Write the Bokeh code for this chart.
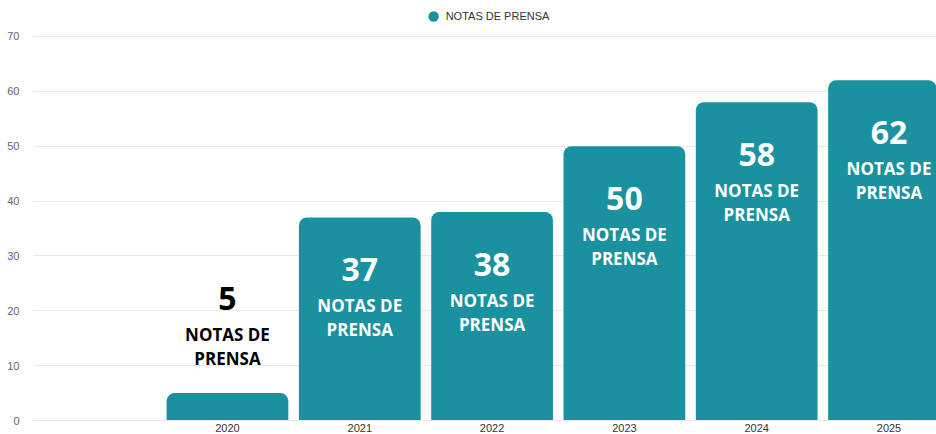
from bokeh.plotting import figure
from bokeh.models import ColumnDataSource, Range1d, FixedTicker, Legend, LegendItem
from bokeh.core.properties import value
from bokeh.embed import file_html
from bokeh.resources import INLINE

years = ["2020", "2021", "2022", "2023", "2024", "2025"]
notas = [5, 37, 38, 50, 58, 62]
series_name = "NOTAS DE PRENSA"
y_ticks = [0, 10, 20, 30, 40, 50, 60, 70]

TEAL = "#1A919E"
xs = list(range(1, len(years) + 1))

src = ColumnDataSource(dict(x=xs, top=notas, year=years,
                            num=[str(v) for v in notas]))

p = figure(width=936, height=434, output_backend="svg", toolbar_location=None,
           x_range=Range1d(-0.466, 6.359), y_range=Range1d(0, 76.55),
           min_border_left=33, min_border_right=0, min_border_top=0,
           min_border_bottom=13, title=None)
p.outline_line_color = None
p.background_fill_color = "white"

bars = p.vbar(x="x", top="top", width=0.92, source=src, fill_color=TEAL,
              line_color=None, border_radius=(8, 8, 0, 0))

# labels
inside = [v >= 10 for v in notas]
lab_src_in = ColumnDataSource(dict(
    x=[x for x, i in zip(xs, inside) if i],
    y=[v for v, i in zip(notas, inside) if i],
    num=[str(v) for v, i in zip(notas, inside) if i]))
lab_src_out = ColumnDataSource(dict(
    x=[x for x, i in zip(xs, inside) if not i],
    y=[v for v, i in zip(notas, inside) if not i],
    num=[str(v) for v, i in zip(notas, inside) if not i]))

font = value("Open Sans")
for s, col, base in ((lab_src_in, "white", 52), (lab_src_out, "black", -95)):
    p.text(x="x", y="y", text="num", source=s, text_color=col, text_font=font,
           text_font_style="bold", text_font_size="32px", text_align="center",
           text_baseline="middle", y_offset=base)
    p.text(x="x", y="y", text=value("NOTAS DE"), source=s, text_color=col,
           text_font=font, text_font_style="bold", text_font_size="17px",
           text_align="center", text_baseline="middle", y_offset=base + 36)
    p.text(x="x", y="y", text=value("PRENSA"), source=s, text_color=col,
           text_font=font, text_font_style="bold", text_font_size="17px",
           text_align="center", text_baseline="middle", y_offset=base + 60)

# legend (dot renderer carries no visible point)
dot = p.scatter(x=[float("nan")], y=[float("nan")], marker="circle", size=11,
                fill_color=TEAL, line_color=None)
legend = Legend(items=[LegendItem(label=series_name, renderers=[dot])],
                orientation="horizontal", location="top_center",
                label_text_font="Liberation Sans", label_text_font_size="11px",
                label_text_color="#333333", glyph_width=26, glyph_height=28,
                label_standoff=0, padding=0, margin=2, border_line_color=None,
                background_fill_alpha=0)
p.add_layout(legend, "center")

# axes
p.xaxis.ticker = FixedTicker(ticks=xs)
p.xaxis.major_label_overrides = {x: y for x, y in zip(xs, years)}
p.xaxis.axis_line_color = "#e6e6e6"
p.xaxis.major_tick_line_color = None
p.xaxis.minor_tick_line_color = None
p.xaxis.major_label_text_font = "Liberation Sans"
p.xaxis.major_label_text_font_size = "11px"
p.xaxis.major_label_text_color = "#333333"
p.xaxis.major_label_standoff = -3

p.yaxis.ticker = FixedTicker(ticks=y_ticks)
p.yaxis.axis_line_color = None
p.yaxis.major_tick_line_color = None
p.yaxis.minor_tick_line_color = None
p.yaxis.major_label_text_font = "Liberation Sans"
p.yaxis.major_label_text_font_size = "11px"
p.yaxis.major_label_text_color = "#666666"
p.yaxis.major_label_standoff = 8

p.xgrid.grid_line_color = None
p.ygrid.grid_line_color = "#e8e8e8"

open("out.html", "w").write(file_html(p, INLINE))
